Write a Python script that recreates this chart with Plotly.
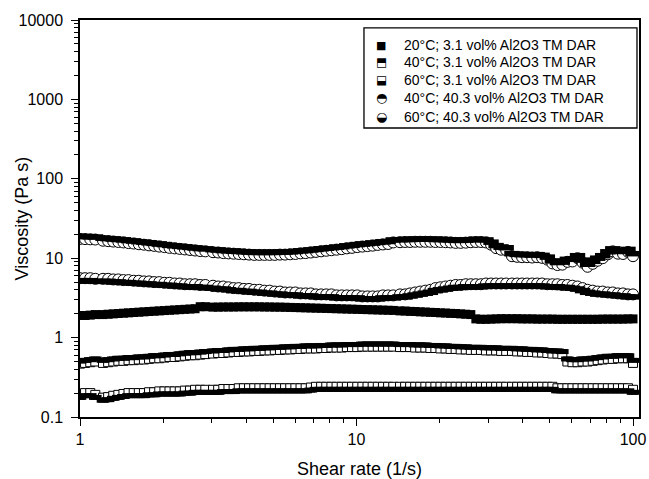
import plotly.graph_objects as go

# Shear rate (1/s) sample points (five measurement segments)
shear_rate = [
    1.000, 1.043, 1.089, 1.136,
    1.211, 1.264, 1.319, 1.376, 1.436, 1.498, 1.564, 1.632, 1.703, 1.777, 1.854,
    1.935, 2.020, 2.107, 2.199, 2.295, 2.394, 2.499, 2.607, 2.721, 2.839,
    3.027, 3.160, 3.298, 3.443, 3.594, 3.751, 3.915, 4.087, 4.266, 4.453, 4.648,
    4.851, 5.064, 5.286, 5.517, 5.759, 6.011, 6.275, 6.549, 6.836, 7.136, 7.448,
    7.775, 8.115, 8.471, 8.842, 9.229, 9.634, 10.06, 10.50, 10.96, 11.44, 11.94,
    12.46, 13.01, 13.58,
    14.37, 14.99, 15.63, 16.30, 17.00, 17.74, 18.50, 19.29, 20.12, 20.99, 21.89,
    22.83, 23.81, 24.84, 25.91, 27.02, 28.18, 29.39, 30.66, 31.98, 33.35, 34.78,
    36.5, 38.1, 39.7, 41.4, 43.2, 45.0, 46.9, 49.0, 51.1, 53.3, 55.5, 57.9, 60.4,
    63.0, 65.7, 68.5, 71.5, 74.5, 77.7, 81.1, 84.5, 88.2, 92.0, 95.9, 100.0,
]

visc_20C_3p1 = [
    1.90, 1.90, 1.92, 1.95,
    1.95, 1.97, 1.99, 2.01, 2.03, 2.05, 2.07, 2.09, 2.11, 2.13, 2.15, 2.17, 2.19,
    2.21, 2.23, 2.25, 2.27, 2.29, 2.31, 2.45, 2.45,
    2.42, 2.42, 2.43, 2.43, 2.43, 2.44, 2.44, 2.44, 2.44, 2.44, 2.43, 2.43, 2.42,
    2.42, 2.41, 2.40, 2.39, 2.38, 2.37, 2.36, 2.35, 2.34, 2.33, 2.32, 2.31, 2.30,
    2.29, 2.28, 2.27, 2.26, 2.25, 2.24, 2.23, 2.22, 2.21, 2.20,
    2.17, 2.16, 2.14, 2.13, 2.11, 2.10, 2.08, 2.07, 2.05, 2.04, 2.02, 2.01, 1.99,
    1.97, 1.95, 1.72, 1.70, 1.70, 1.71, 1.72, 1.73, 1.73,
    1.73, 1.73, 1.72, 1.72, 1.72, 1.71, 1.71, 1.71, 1.71, 1.70, 1.70, 1.70, 1.70,
    1.70, 1.70, 1.70, 1.70, 1.70, 1.71, 1.71, 1.71, 1.71, 1.71, 1.72, 1.72,
]

visc_40C_3p1 = [
    0.47, 0.48, 0.49, 0.50,
    0.48, 0.49, 0.50, 0.51, 0.51, 0.52, 0.52, 0.53, 0.53, 0.54, 0.55, 0.55, 0.56,
    0.57, 0.57, 0.58, 0.59, 0.60, 0.60, 0.61, 0.62,
    0.63, 0.64, 0.64, 0.65, 0.66, 0.66, 0.67, 0.67, 0.68, 0.68, 0.69, 0.69, 0.70,
    0.70, 0.71, 0.71, 0.72, 0.72, 0.73, 0.73, 0.73, 0.74, 0.74, 0.75, 0.75, 0.75,
    0.76, 0.76, 0.76, 0.77, 0.77, 0.77, 0.77, 0.77, 0.77, 0.77,
    0.76, 0.76, 0.76, 0.75, 0.75, 0.75, 0.74, 0.74, 0.73, 0.73, 0.72, 0.72, 0.71,
    0.71, 0.70, 0.70, 0.70, 0.69, 0.69, 0.69, 0.68, 0.68,
    0.68, 0.67, 0.67, 0.66, 0.66, 0.65, 0.65, 0.64, 0.63, 0.63, 0.62, 0.50, 0.49,
    0.49, 0.50, 0.50, 0.51, 0.52, 0.53, 0.54, 0.54, 0.55, 0.55, 0.55, 0.48,
]

visc_60C_3p1 = [
    0.19, 0.20, 0.20, 0.19,
    0.175, 0.178, 0.185, 0.19, 0.195, 0.20, 0.20, 0.20, 0.20, 0.205, 0.205, 0.21,
    0.21, 0.21, 0.21, 0.21, 0.215, 0.215, 0.22, 0.22, 0.22,
    0.22, 0.22, 0.225, 0.225, 0.225, 0.23, 0.23, 0.23, 0.23, 0.23, 0.23, 0.23,
    0.23, 0.23, 0.23, 0.23, 0.23, 0.23, 0.23, 0.235, 0.24, 0.24, 0.24, 0.24, 0.24,
    0.24, 0.24, 0.24, 0.24, 0.24, 0.24, 0.24, 0.24, 0.24, 0.24, 0.24,
    0.24, 0.24, 0.24, 0.24, 0.24, 0.24, 0.24, 0.24, 0.24, 0.24, 0.24, 0.24, 0.24,
    0.24, 0.24, 0.24, 0.24, 0.24, 0.24, 0.24, 0.24, 0.24,
    0.24, 0.24, 0.24, 0.24, 0.24, 0.24, 0.24, 0.24, 0.24, 0.23, 0.23, 0.23, 0.23,
    0.23, 0.23, 0.23, 0.23, 0.23, 0.23, 0.23, 0.23, 0.23, 0.23, 0.23, 0.22,
]

visc_40C_40p3 = [
    17.5, 17.4, 17.3, 17.2,
    16.6, 16.4, 16.2, 16.0, 15.8, 15.5, 15.3, 15.0, 14.8, 14.5, 14.3, 14.0, 13.8,
    13.5, 13.3, 13.1, 12.9, 12.7, 12.5, 12.3, 12.2,
    11.9, 11.8, 11.6, 11.5, 11.4, 11.3, 11.2, 11.1, 11.0, 11.0, 11.0, 11.0, 11.0,
    11.1, 11.1, 11.2, 11.3, 11.5, 11.6, 11.8, 12.0, 12.2, 12.4, 12.6, 12.8, 13.0,
    13.3, 13.5, 13.8, 14.0, 14.2, 14.4, 14.7, 14.9, 15.1, 15.8,
    15.9, 16.0, 16.0, 16.1, 16.1, 16.1, 16.1, 16.0, 16.0, 15.9, 15.8, 15.6, 15.6,
    15.7, 15.9, 16.0, 16.0, 15.8, 14.8, 13.4, 12.8, 12.6,
    10.6, 10.4, 10.3, 10.3, 10.2, 10.3, 10.1, 9.6, 8.6, 8.2, 8.3, 9.0, 9.1, 10.0,
    8.8, 7.8, 8.5, 9.3, 10.0, 11.2, 12.2, 11.4, 11.3, 12.0, 10.6,
]

visc_60C_40p3 = [
    5.6, 5.6, 5.6, 5.5,
    5.5, 5.5, 5.4, 5.4, 5.3, 5.3, 5.2, 5.2, 5.1, 5.1, 5.0, 5.0, 4.9, 4.9, 4.8,
    4.8, 4.7, 4.7, 4.7, 4.6, 4.6,
    4.5, 4.4, 4.4, 4.3, 4.2, 4.2, 4.1, 4.1, 4.0, 4.0, 3.9, 3.9, 3.8, 3.8, 3.7,
    3.7, 3.7, 3.6, 3.6, 3.6, 3.5, 3.5, 3.5, 3.5, 3.4, 3.4, 3.4, 3.4, 3.4, 3.3,
    3.3, 3.3, 3.3, 3.4, 3.4, 3.4,
    3.5, 3.5, 3.6, 3.7, 3.8, 3.9, 4.0, 4.2, 4.3, 4.4, 4.5, 4.6, 4.6, 4.7, 4.7,
    4.7, 4.7, 4.8, 4.8, 4.8, 4.8, 4.8,
    4.8, 4.8, 4.8, 4.8, 4.8, 4.8, 4.8, 4.7, 4.7, 4.7, 4.6, 4.6, 4.5, 4.4, 4.2,
    4.0, 3.9, 3.8, 3.8, 3.7, 3.7, 3.6, 3.6, 3.5, 3.5,
]

series_names = [
    "20°C; 3.1 vol% Al2O3 TM DAR",
    "40°C; 3.1 vol% Al2O3 TM DAR",
    "60°C; 3.1 vol% Al2O3 TM DAR",
    "40°C; 40.3 vol% Al2O3 TM DAR",
    "60°C; 40.3 vol% Al2O3 TM DAR",
]
series_values = [visc_20C_3p1, visc_40C_3p1, visc_60C_3p1, visc_40C_40p3, visc_60C_40p3]
# marker style: shape and which half is filled black
series_shape = ["square", "square", "square", "circle", "circle"]
series_fill = ["full", "top", "bottom", "top", "bottom"]
legend_glyphs = ["\u25A0", "\u2B12", "\u2B13", "\u25D3", "\u25D2"]

x_ticks = [1, 10, 100]
y_ticks = [0.1, 1, 10, 100, 1000, 10000]
y_tick_text = ["0.1", "1", "10", "100", "1000", "10000"]

FONT = "Liberation Sans, Arial, sans-serif"
GLYPH_FONT = "DejaVu Sans"

# plot area geometry (pixels)
PLOT_H = 397.0
DECADES = 5.0
HALF_SHIFT_PX = 2.5
s = HALF_SHIFT_PX * DECADES / PLOT_H  # log-units offset for the half-fill helper axes

fig = go.Figure()

for name, vals, shape, fill in zip(series_names, series_values, series_shape, series_fill):
    size = 9 if shape == "square" else 11
    if fill == "full":
        fig.add_trace(go.Scatter(
            x=shear_rate, y=vals, mode="markers", name=name,
            marker=dict(symbol=shape, size=size, color="black", line=dict(width=0)),
        ))
        continue
    # white body with black outline
    fig.add_trace(go.Scatter(
        x=shear_rate, y=vals, mode="markers", name=name,
        marker=dict(symbol=shape, size=size, color="white", line=dict(width=1, color="black")),
    ))
    # black half drawn on a slightly offset (hidden) copy of the y axis
    fig.add_trace(go.Scatter(
        x=shear_rate, y=vals, mode="markers", name=name, yaxis="y2" if fill == "top" else "y3",
        marker=dict(symbol="line-ew", size=size, color="black",
                    line=dict(width=HALF_SHIFT_PX * 2 + (0.5 if shape == "circle" else 0), color="black")),
    ))

minor_x = [v * d for d in (1, 10) for v in range(2, 10)]
minor_y = [v * d for d in (0.1, 1, 10, 100, 1000) for v in range(2, 10)]

fig.update_xaxes(
    type="log", range=[0, 2.0217], automargin=False,
    tickmode="array", tickvals=x_ticks, ticktext=[str(v) for v in x_ticks],
    ticks="outside", ticklen=7, tickwidth=1.3, tickcolor="black", ticklabelstandoff=0,
    minor=dict(tickmode="array", tickvals=minor_x, ticks="outside", ticklen=4,
               tickwidth=1, tickcolor="black", showgrid=False),
    showline=True, linecolor="black", linewidth=1.5, mirror=True,
    showgrid=False, zeroline=False,
    tickfont=dict(family=FONT, size=16, color="black"),
    title=dict(text="Shear rate (1/s)", font=dict(family=FONT, size=18, color="black"), standoff=20),
)
fig.update_layout(
    yaxis=dict(
        type="log", range=[-1, 4], automargin=False,
        tickmode="array", tickvals=y_ticks, ticktext=y_tick_text,
        ticks="outside", ticklen=7, tickwidth=1.3, tickcolor="black", ticklabelstandoff=5,
        minor=dict(tickmode="array", tickvals=minor_y, ticks="outside", ticklen=4,
                   tickwidth=1, tickcolor="black", showgrid=False),
        showline=True, linecolor="black", linewidth=1.5, mirror=True,
        showgrid=False, zeroline=False,
        tickfont=dict(family=FONT, size=16, color="black"),
    ),
    yaxis2=dict(type="log", range=[-1 - s, 4 - s], overlaying="y", visible=False, automargin=False),
    yaxis3=dict(type="log", range=[-1 + s, 4 + s], overlaying="y", visible=False, automargin=False),
)

# y-axis title placed as an annotation so it can sit closer to the tick labels
fig.add_annotation(xref="paper", yref="paper", x=-0.1055, y=0.5, text="Viscosity (Pa s)",
                   textangle=-90, showarrow=False, xanchor="center", yanchor="middle",
                   font=dict(family=FONT, size=18, color="black"))

# legend box (drawn manually so the half-filled symbols can be shown)
fig.add_shape(type="rect", xref="paper", yref="paper", x0=0.508, x1=0.9964, y0=0.728, y1=0.980,
              line=dict(color="black", width=1.3), fillcolor="white", layer="above")
legend_y = [0.937, 0.894, 0.849, 0.804, 0.756]
for name, glyph, ly, shape in zip(series_names, legend_glyphs, legend_y, series_shape):
    fig.add_annotation(xref="paper", yref="paper", x=0.5385, y=ly, text=glyph, showarrow=False,
                       xanchor="center", yanchor="middle",
                       font=dict(family=GLYPH_FONT, size=(11 if glyph == "\u25A0" else (12 if shape == "square" else 13)),
                                 color="black"))
    fig.add_annotation(xref="paper", yref="paper", x=0.576, y=ly, text=name, showarrow=False,
                       xanchor="left", yanchor="middle",
                       font=dict(family=FONT, size=14, color="black"))

fig.update_layout(
    width=649, height=479,
    margin=dict(l=80, r=10, t=20, b=62),
    paper_bgcolor="white", plot_bgcolor="white",
    showlegend=False,
)

fig.write_html("out.html")
